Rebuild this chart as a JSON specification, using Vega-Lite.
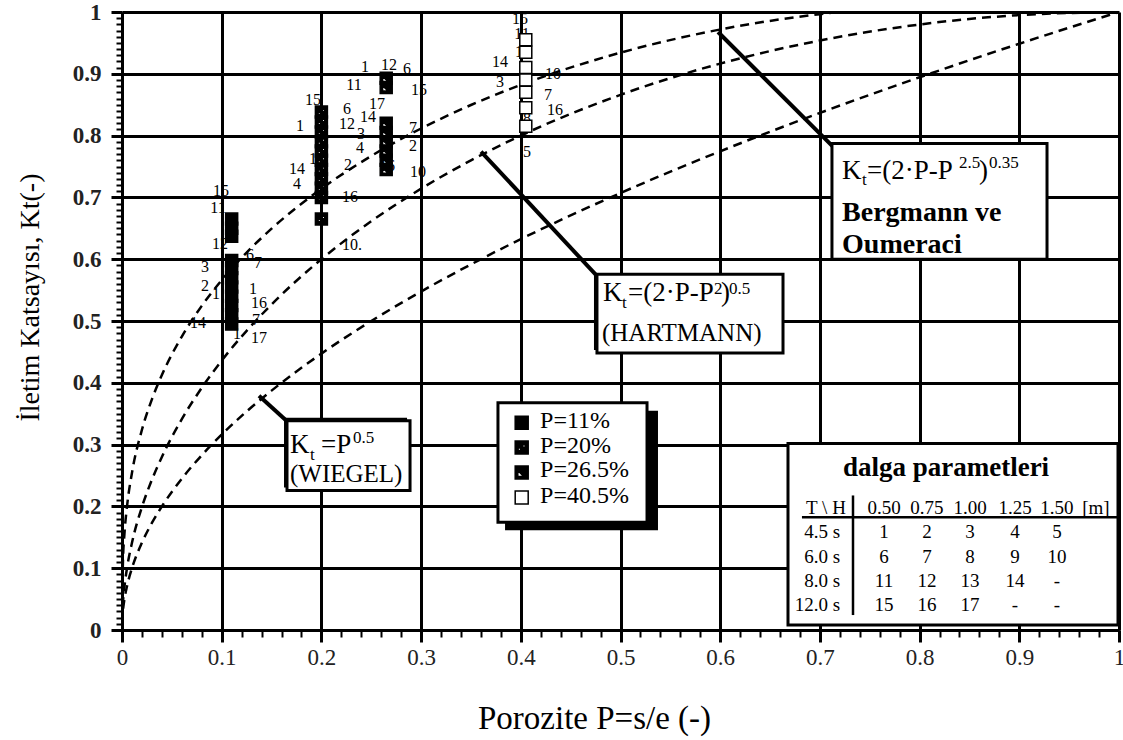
{
  "$schema": "https://vega.github.io/schema/vega-lite/v6.json",
  "width": 997,
  "height": 618,
  "autosize": {"type": "none"},
  "padding": {"left": 122, "top": 12, "right": 4, "bottom": 110},
  "background": "white",
  "config": {"view": {"stroke": null}, "font": "Liberation Serif"},
  "datasets": {
    "curves": [
      {"c": "w", "P": 0.0001, "Kt": 0.01}, {"c": "w", "P": 0.001, "Kt": 0.0316}, {"c": "w", "P": 0.0025, "Kt": 0.05}, {"c": "w", "P": 0.005, "Kt": 0.0707}, {"c": "w", "P": 0.01, "Kt": 0.1}, {"c": "w", "P": 0.02, "Kt": 0.1414}, {"c": "w", "P": 0.03, "Kt": 0.1732}, {"c": "w", "P": 0.04, "Kt": 0.2}, {"c": "w", "P": 0.06, "Kt": 0.2449}, {"c": "w", "P": 0.08, "Kt": 0.2828}, {"c": "w", "P": 0.1, "Kt": 0.3162}, {"c": "w", "P": 0.125, "Kt": 0.3536}, {"c": "w", "P": 0.15, "Kt": 0.3873}, {"c": "w", "P": 0.2, "Kt": 0.4472}, {"c": "w", "P": 0.25, "Kt": 0.5}, {"c": "w", "P": 0.3, "Kt": 0.5477}, {"c": "w", "P": 0.35, "Kt": 0.5916}, {"c": "w", "P": 0.4, "Kt": 0.6325}, {"c": "w", "P": 0.5, "Kt": 0.7071}, {"c": "w", "P": 0.6, "Kt": 0.7746}, {"c": "w", "P": 0.7, "Kt": 0.8367}, {"c": "w", "P": 0.8, "Kt": 0.8944}, {"c": "w", "P": 0.9, "Kt": 0.9487}, {"c": "w", "P": 1.0, "Kt": 1.0},
      {"c": "h", "P": 0.0001, "Kt": 0.0141}, {"c": "h", "P": 0.001, "Kt": 0.0447}, {"c": "h", "P": 0.0025, "Kt": 0.0707}, {"c": "h", "P": 0.005, "Kt": 0.0999}, {"c": "h", "P": 0.01, "Kt": 0.1411}, {"c": "h", "P": 0.02, "Kt": 0.199}, {"c": "h", "P": 0.03, "Kt": 0.2431}, {"c": "h", "P": 0.04, "Kt": 0.28}, {"c": "h", "P": 0.06, "Kt": 0.3412}, {"c": "h", "P": 0.08, "Kt": 0.3919}, {"c": "h", "P": 0.1, "Kt": 0.4359}, {"c": "h", "P": 0.125, "Kt": 0.4841}, {"c": "h", "P": 0.15, "Kt": 0.5268}, {"c": "h", "P": 0.2, "Kt": 0.6}, {"c": "h", "P": 0.25, "Kt": 0.6614}, {"c": "h", "P": 0.3, "Kt": 0.7141}, {"c": "h", "P": 0.35, "Kt": 0.7599}, {"c": "h", "P": 0.4, "Kt": 0.8}, {"c": "h", "P": 0.5, "Kt": 0.866}, {"c": "h", "P": 0.6, "Kt": 0.9165}, {"c": "h", "P": 0.7, "Kt": 0.9539}, {"c": "h", "P": 0.8, "Kt": 0.9798}, {"c": "h", "P": 0.9, "Kt": 0.995}, {"c": "h", "P": 1.0, "Kt": 1.0},
      {"c": "b", "P": 0.0001, "Kt": 0.0507}, {"c": "b", "P": 0.001, "Kt": 0.1136}, {"c": "b", "P": 0.0025, "Kt": 0.1565}, {"c": "b", "P": 0.005, "Kt": 0.1995}, {"c": "b", "P": 0.01, "Kt": 0.2543}, {"c": "b", "P": 0.02, "Kt": 0.324}, {"c": "b", "P": 0.03, "Kt": 0.3732}, {"c": "b", "P": 0.04, "Kt": 0.4126}, {"c": "b", "P": 0.06, "Kt": 0.4749}, {"c": "b", "P": 0.08, "Kt": 0.5245}, {"c": "b", "P": 0.1, "Kt": 0.5661}, {"c": "b", "P": 0.125, "Kt": 0.6108}, {"c": "b", "P": 0.15, "Kt": 0.6494}, {"c": "b", "P": 0.2, "Kt": 0.7141}, {"c": "b", "P": 0.25, "Kt": 0.767}, {"c": "b", "P": 0.3, "Kt": 0.8115}, {"c": "b", "P": 0.35, "Kt": 0.8495}, {"c": "b", "P": 0.4, "Kt": 0.8821}, {"c": "b", "P": 0.5, "Kt": 0.9342}, {"c": "b", "P": 0.6, "Kt": 0.9717}, {"c": "b", "P": 0.7, "Kt": 0.9965}, {"c": "b", "P": 0.8, "Kt": 1.0096}, {"c": "b", "P": 0.9, "Kt": 1.0109}, {"c": "b", "P": 1.0, "Kt": 1.0}
    ],
    "pts": [
      {"grp": "P=11%", "P": 0.11, "Kt": 0.665}, {"grp": "P=11%", "P": 0.11, "Kt": 0.65}, {"grp": "P=11%", "P": 0.11, "Kt": 0.637}, {"grp": "P=11%", "P": 0.11, "Kt": 0.598}, {"grp": "P=11%", "P": 0.11, "Kt": 0.585}, {"grp": "P=11%", "P": 0.11, "Kt": 0.57}, {"grp": "P=11%", "P": 0.11, "Kt": 0.555}, {"grp": "P=11%", "P": 0.11, "Kt": 0.54}, {"grp": "P=11%", "P": 0.11, "Kt": 0.525}, {"grp": "P=11%", "P": 0.11, "Kt": 0.51}, {"grp": "P=11%", "P": 0.11, "Kt": 0.495},
      {"grp": "P=20%", "P": 0.2, "Kt": 0.838}, {"grp": "P=20%", "P": 0.2, "Kt": 0.822}, {"grp": "P=20%", "P": 0.2, "Kt": 0.806}, {"grp": "P=20%", "P": 0.2, "Kt": 0.79}, {"grp": "P=20%", "P": 0.2, "Kt": 0.775}, {"grp": "P=20%", "P": 0.2, "Kt": 0.76}, {"grp": "P=20%", "P": 0.2, "Kt": 0.745}, {"grp": "P=20%", "P": 0.2, "Kt": 0.73}, {"grp": "P=20%", "P": 0.2, "Kt": 0.715}, {"grp": "P=20%", "P": 0.2, "Kt": 0.7}, {"grp": "P=20%", "P": 0.2, "Kt": 0.665},
      {"grp": "P=26.5%", "P": 0.265, "Kt": 0.893}, {"grp": "P=26.5%", "P": 0.265, "Kt": 0.878}, {"grp": "P=26.5%", "P": 0.265, "Kt": 0.82}, {"grp": "P=26.5%", "P": 0.265, "Kt": 0.805}, {"grp": "P=26.5%", "P": 0.265, "Kt": 0.79}, {"grp": "P=26.5%", "P": 0.265, "Kt": 0.775}, {"grp": "P=26.5%", "P": 0.265, "Kt": 0.76}, {"grp": "P=26.5%", "P": 0.265, "Kt": 0.745},
      {"grp": "P=40.5%", "P": 0.405, "Kt": 0.955}, {"grp": "P=40.5%", "P": 0.405, "Kt": 0.935}, {"grp": "P=40.5%", "P": 0.405, "Kt": 0.91}, {"grp": "P=40.5%", "P": 0.405, "Kt": 0.89}, {"grp": "P=40.5%", "P": 0.405, "Kt": 0.87}, {"grp": "P=40.5%", "P": 0.405, "Kt": 0.845}, {"grp": "P=40.5%", "P": 0.405, "Kt": 0.815}
    ],
    "labs": [
      {"t": "15", "P": 0.0993, "Kt": 0.7097}, {"t": "11", "P": 0.0963, "Kt": 0.6823}, {"t": "12", "P": 0.0983, "Kt": 0.6242}, {"t": "6", "P": 0.1284, "Kt": 0.6065}, {"t": "7", "P": 0.1364, "Kt": 0.5935}, {"t": "3", "P": 0.0833, "Kt": 0.588}, {"t": "2", "P": 0.0833, "Kt": 0.557}, {"t": "1", "P": 0.0943, "Kt": 0.5435}, {"t": "1", "P": 0.1314, "Kt": 0.552}, {"t": "16", "P": 0.1374, "Kt": 0.529}, {"t": "14", "P": 0.0762, "Kt": 0.4968}, {"t": "7", "P": 0.1344, "Kt": 0.501}, {"t": "1", "P": 0.1153, "Kt": 0.479}, {"t": "17", "P": 0.1374, "Kt": 0.4726},
      {"t": "15", "P": 0.1916, "Kt": 0.8581}, {"t": "1", "P": 0.1785, "Kt": 0.8161}, {"t": "6", "P": 0.2257, "Kt": 0.8435}, {"t": "12", "P": 0.2257, "Kt": 0.8194}, {"t": "17", "P": 0.1956, "Kt": 0.7629}, {"t": "14", "P": 0.1755, "Kt": 0.7452}, {"t": "2", "P": 0.2267, "Kt": 0.7532}, {"t": "4", "P": 0.1755, "Kt": 0.721}, {"t": "16", "P": 0.2287, "Kt": 0.7}, {"t": "10.", "P": 0.2307, "Kt": 0.6226},
      {"t": "1", "P": 0.2437, "Kt": 0.9113}, {"t": "12", "P": 0.2678, "Kt": 0.9145}, {"t": "6", "P": 0.2859, "Kt": 0.9081}, {"t": "11", "P": 0.2327, "Kt": 0.8823}, {"t": "15", "P": 0.2979, "Kt": 0.8742}, {"t": "17", "P": 0.2558, "Kt": 0.8516}, {"t": "14", "P": 0.2467, "Kt": 0.83}, {"t": "3", "P": 0.2397, "Kt": 0.803}, {"t": "7", "P": 0.2919, "Kt": 0.8129}, {"t": "4", "P": 0.2387, "Kt": 0.7803}, {"t": "2", "P": 0.2919, "Kt": 0.7839}, {"t": "16", "P": 0.2658, "Kt": 0.7516}, {"t": "10", "P": 0.2969, "Kt": 0.7419},
      {"t": "15", "P": 0.3992, "Kt": 0.9887}, {"t": "11", "P": 0.4012, "Kt": 0.9645}, {"t": "17", "P": 0.4022, "Kt": 0.9355}, {"t": "14", "P": 0.3791, "Kt": 0.9194}, {"t": "10", "P": 0.4323, "Kt": 0.9}, {"t": "3", "P": 0.3791, "Kt": 0.8871}, {"t": "7", "P": 0.4273, "Kt": 0.8661}, {"t": "16", "P": 0.4343, "Kt": 0.8419}, {"t": "8", "P": 0.4062, "Kt": 0.8274}, {"t": "5", "P": 0.4062, "Kt": 0.7742}
    ],
    "leg": [
      {"grp": "P=11%", "P": 0.4009, "Kt": 0.3355},
      {"grp": "P=20%", "P": 0.4009, "Kt": 0.2952},
      {"grp": "P=26.5%", "P": 0.4009, "Kt": 0.2548},
      {"grp": "P=40.5%", "P": 0.4009, "Kt": 0.2145}
    ],
    "shadows": [
      {"x1": 0.3842, "x2": 0.5376, "y1": 0.1613, "y2": 0.3548},
      {"x1": 0.1625, "x2": 0.2859, "y1": 0.2306, "y2": 0.3435},
      {"x1": 0.4734, "x2": 0.66, "y1": 0.4532, "y2": 0.5758}
    ],
    "boxes": [
      {"x1": 0.1655, "x2": 0.2889, "y1": 0.2258, "y2": 0.3387},
      {"x1": 0.4764, "x2": 0.663, "y1": 0.4484, "y2": 0.5758},
      {"x1": 0.7121, "x2": 0.9278, "y1": 0.6, "y2": 0.7871},
      {"x1": 0.3771, "x2": 0.5266, "y1": 0.1742, "y2": 0.3677},
      {"x1": 0.668, "x2": 0.999, "y1": 0.0081, "y2": 0.3016}
    ],
    "ptr": [
      {"x1": 0.1374, "y1": 0.379, "x2": 0.1705, "y2": 0.3306},
      {"x1": 0.3601, "y1": 0.7742, "x2": 0.4794, "y2": 0.5677},
      {"x1": 0.5978, "y1": 0.9677, "x2": 0.7161, "y2": 0.7774}
    ],
    "tlines": [
      {"x1": 0.682, "y1": 0.1823, "x2": 0.998, "y2": 0.1823},
      {"x1": 0.7332, "y1": 0.2177, "x2": 0.7332, "y2": 0.0242}
    ],
    "annBig": [
      {"t": "K", "P": 0.1685, "Kt": 0.2871}, {"t": "=P", "P": 0.1996, "Kt": 0.2871},
      {"t": "K", "P": 0.4824, "Kt": 0.5323}, {"t": "=(2·P-P", "P": 0.5075, "Kt": 0.5323}, {"t": ")", "P": 0.6008, "Kt": 0.5323},
      {"t": "K", "P": 0.7221, "Kt": 0.729}, {"t": "=(2·P-P", "P": 0.7472, "Kt": 0.729}, {"t": ")", "P": 0.8596, "Kt": 0.729}
    ],
    "annName": [
      {"t": "(WIEGEL)", "P": 0.1685, "Kt": 0.2387},
      {"t": "(HARTMANN)", "P": 0.4814, "Kt": 0.4677}
    ],
    "annSmall": [
      {"t": "t", "P": 0.1886, "Kt": 0.2758}, {"t": "0.5", "P": 0.2317, "Kt": 0.3032},
      {"t": "t", "P": 0.5015, "Kt": 0.521}, {"t": "2", "P": 0.5938, "Kt": 0.5435}, {"t": "0.5", "P": 0.6088, "Kt": 0.5435},
      {"t": "t", "P": 0.7422, "Kt": 0.7194}, {"t": "2.5", "P": 0.8395, "Kt": 0.7468}, {"t": "0.35", "P": 0.8696, "Kt": 0.7468}
    ],
    "annBold": [
      {"t": "Bergmann ve", "P": 0.7222, "Kt": 0.6613},
      {"t": "Oumeraci", "P": 0.7222, "Kt": 0.6097}
    ],
    "legText": [
      {"t": "P=11%", "P": 0.4193, "Kt": 0.3274},
      {"t": "P=20%", "P": 0.4193, "Kt": 0.2871},
      {"t": "P=26.5%", "P": 0.4193, "Kt": 0.2468},
      {"t": "P=40.5%", "P": 0.4193, "Kt": 0.2048}
    ],
    "tblTitle": [{"t": "dalga parametleri", "P": 0.8265, "Kt": 0.25}],
    "tblC": [
      {"t": "T \\ H", "P": 0.7061, "Kt": 0.1871}, {"t": "0.50", "P": 0.7643, "Kt": 0.1871}, {"t": "0.75", "P": 0.8074, "Kt": 0.1871}, {"t": "1.00", "P": 0.8506, "Kt": 0.1871}, {"t": "1.25", "P": 0.8957, "Kt": 0.1871}, {"t": "1.50", "P": 0.9378, "Kt": 0.1871}, {"t": "[m]", "P": 0.9769, "Kt": 0.1871},
      {"t": "1", "P": 0.7643, "Kt": 0.1484}, {"t": "2", "P": 0.8074, "Kt": 0.1484}, {"t": "3", "P": 0.8506, "Kt": 0.1484}, {"t": "4", "P": 0.8957, "Kt": 0.1484}, {"t": "5", "P": 0.9378, "Kt": 0.1484},
      {"t": "6", "P": 0.7643, "Kt": 0.1081}, {"t": "7", "P": 0.8074, "Kt": 0.1081}, {"t": "8", "P": 0.8506, "Kt": 0.1081}, {"t": "9", "P": 0.8957, "Kt": 0.1081}, {"t": "10", "P": 0.9378, "Kt": 0.1081},
      {"t": "11", "P": 0.7643, "Kt": 0.0694}, {"t": "12", "P": 0.8074, "Kt": 0.0694}, {"t": "13", "P": 0.8506, "Kt": 0.0694}, {"t": "14", "P": 0.8957, "Kt": 0.0694}, {"t": "-", "P": 0.9378, "Kt": 0.0694},
      {"t": "15", "P": 0.7643, "Kt": 0.0306}, {"t": "16", "P": 0.8074, "Kt": 0.0306}, {"t": "17", "P": 0.8506, "Kt": 0.0306}, {"t": "-", "P": 0.8957, "Kt": 0.0306}, {"t": "-", "P": 0.9378, "Kt": 0.0306}
    ],
    "tblR": [
      {"t": "4.5 s", "P": 0.7202, "Kt": 0.1484},
      {"t": "6.0 s", "P": 0.7202, "Kt": 0.1081},
      {"t": "8.0 s", "P": 0.7202, "Kt": 0.0694},
      {"t": "12.0 s", "P": 0.7202, "Kt": 0.0306}
    ]
  },
  "layer": [
    {
      "data": {"name": "curves"},
      "mark": {"type": "line", "clip": true, "color": "black", "strokeWidth": 2.5, "strokeDash": [9, 6], "interpolate": "monotone"},
      "encoding": {
        "x": {
          "field": "P", "type": "quantitative",
          "scale": {"domain": [0, 1], "nice": false, "zero": false},
          "axis": {
            "title": "Porozite P=s/e (-)",
            "values": [0, 0.02, 0.04, 0.06, 0.08, 0.1, 0.12, 0.14, 0.16, 0.18, 0.2, 0.22, 0.24, 0.26, 0.28, 0.3, 0.32, 0.34, 0.36, 0.38, 0.4, 0.42, 0.44, 0.46, 0.48, 0.5, 0.52, 0.54, 0.56, 0.58, 0.6, 0.62, 0.64, 0.66, 0.68, 0.7, 0.72, 0.74, 0.76, 0.78, 0.8, 0.82, 0.84, 0.86, 0.88, 0.9, 0.92, 0.94, 0.96, 0.98, 1],
            "tickCount": 1000,
            "format": ".2~f",
            "labelExpr": "abs(datum.value*10 - round(datum.value*10)) < 0.001 ? datum.label : ''",
            "labelOverlap": false, "labelFlush": false,
            "grid": true, "gridColor": "black", "gridWidth": 3,
            "gridOpacity": {"condition": {"test": "abs(datum.value*10 - round(datum.value*10)) < 0.001", "value": 1}, "value": 0},
            "tickSize": {"condition": {"test": "abs(datum.value*10 - round(datum.value*10)) < 0.001", "value": 12}, "value": 7},
            "tickWidth": {"condition": {"test": "abs(datum.value*10 - round(datum.value*10)) < 0.001", "value": 3}, "value": 2},
            "tickColor": "black", "domainColor": "black", "domainWidth": 3,
            "labelFont": "Liberation Serif", "labelFontSize": 23, "labelColor": "#222", "labelPadding": 4,
            "titleFont": "Liberation Serif", "titleFontSize": 33, "titleFontWeight": "normal", "titleColor": "black",
            "titleX": 472, "titleY": 98, "titleAlign": "center", "titleBaseline": "alphabetic"
          }
        },
        "y": {
          "field": "Kt", "type": "quantitative",
          "scale": {"domain": [0, 1], "nice": false, "zero": false},
          "axis": {
            "title": "İletim Katsayısı, Kt(-)",
            "values": [0, 0.01, 0.02, 0.03, 0.04, 0.05, 0.06, 0.07, 0.08, 0.09, 0.1, 0.11, 0.12, 0.13, 0.14, 0.15, 0.16, 0.17, 0.18, 0.19, 0.2, 0.21, 0.22, 0.23, 0.24, 0.25, 0.26, 0.27, 0.28, 0.29, 0.3, 0.31, 0.32, 0.33, 0.34, 0.35, 0.36, 0.37, 0.38, 0.39, 0.4, 0.41, 0.42, 0.43, 0.44, 0.45, 0.46, 0.47, 0.48, 0.49, 0.5, 0.51, 0.52, 0.53, 0.54, 0.55, 0.56, 0.57, 0.58, 0.59, 0.6, 0.61, 0.62, 0.63, 0.64, 0.65, 0.66, 0.67, 0.68, 0.69, 0.7, 0.71, 0.72, 0.73, 0.74, 0.75, 0.76, 0.77, 0.78, 0.79, 0.8, 0.81, 0.82, 0.83, 0.84, 0.85, 0.86, 0.87, 0.88, 0.89, 0.9, 0.91, 0.92, 0.93, 0.94, 0.95, 0.96, 0.97, 0.98, 0.99, 1],
            "tickCount": 1000,
            "format": ".2~f",
            "labelExpr": "abs(datum.value*10 - round(datum.value*10)) < 0.001 ? datum.label : ''",
            "labelOverlap": false, "labelFlush": false,
            "grid": true, "gridColor": "black", "gridWidth": 3,
            "gridOpacity": {"condition": {"test": "abs(datum.value*10 - round(datum.value*10)) < 0.001", "value": 1}, "value": 0},
            "tickSize": {"condition": {"test": "abs(datum.value*10 - round(datum.value*10)) < 0.001", "value": 11}, "value": 6},
            "tickWidth": {"condition": {"test": "abs(datum.value*10 - round(datum.value*10)) < 0.001", "value": 3}, "value": 2},
            "tickColor": "black", "domainColor": "black", "domainWidth": 3,
            "labelFont": "Liberation Serif", "labelFontSize": 23, "labelFontWeight": "bold", "labelColor": "#222", "labelPadding": 10,
            "titleFont": "Liberation Serif", "titleFontSize": 28, "titleFontWeight": "normal", "titleColor": "black",
            "titleAngle": -90, "titleX": -92, "titleY": 285, "titleAlign": "center", "titleBaseline": "middle"
          }
        },
        "detail": {"field": "c", "type": "nominal"}
      }
    },
    {
      "data": {"name": "ptr"},
      "mark": {"type": "rule", "color": "black", "strokeWidth": 4},
      "encoding": {
        "x": {"field": "x1", "type": "quantitative"},
        "y": {"field": "y1", "type": "quantitative"},
        "x2": {"field": "x2"},
        "y2": {"field": "y2"}
      }
    },
    {
      "data": {"name": "shadows"},
      "mark": {"type": "rect", "color": "black"},
      "encoding": {
        "x": {"field": "x1", "type": "quantitative"},
        "x2": {"field": "x2"},
        "y": {"field": "y1", "type": "quantitative"},
        "y2": {"field": "y2"}
      }
    },
    {
      "data": {"name": "boxes"},
      "mark": {"type": "rect", "fill": "white", "stroke": "black", "strokeWidth": 3},
      "encoding": {
        "x": {"field": "x1", "type": "quantitative"},
        "x2": {"field": "x2"},
        "y": {"field": "y1", "type": "quantitative"},
        "y2": {"field": "y2"}
      }
    },
    {
      "data": {"name": "tlines"},
      "mark": {"type": "rule", "color": "black", "strokeWidth": 2.5},
      "encoding": {
        "x": {"field": "x1", "type": "quantitative"},
        "y": {"field": "y1", "type": "quantitative"},
        "x2": {"field": "x2"},
        "y2": {"field": "y2"}
      }
    },
    {
      "data": {"name": "annBig"},
      "mark": {"type": "text", "align": "left", "baseline": "alphabetic", "fontSize": 27, "color": "black"},
      "encoding": {
        "x": {"field": "P", "type": "quantitative"},
        "y": {"field": "Kt", "type": "quantitative"},
        "text": {"field": "t"}
      }
    },
    {
      "data": {"name": "annName"},
      "mark": {"type": "text", "align": "left", "baseline": "alphabetic", "fontSize": 25, "color": "black"},
      "encoding": {
        "x": {"field": "P", "type": "quantitative"},
        "y": {"field": "Kt", "type": "quantitative"},
        "text": {"field": "t"}
      }
    },
    {
      "data": {"name": "annSmall"},
      "mark": {"type": "text", "align": "left", "baseline": "alphabetic", "fontSize": 17, "color": "black"},
      "encoding": {
        "x": {"field": "P", "type": "quantitative"},
        "y": {"field": "Kt", "type": "quantitative"},
        "text": {"field": "t"}
      }
    },
    {
      "data": {"name": "annBold"},
      "mark": {"type": "text", "align": "left", "baseline": "alphabetic", "fontSize": 28, "fontWeight": "bold", "color": "black"},
      "encoding": {
        "x": {"field": "P", "type": "quantitative"},
        "y": {"field": "Kt", "type": "quantitative"},
        "text": {"field": "t"}
      }
    },
    {
      "data": {"name": "legText"},
      "mark": {"type": "text", "align": "left", "baseline": "alphabetic", "fontSize": 24, "color": "black"},
      "encoding": {
        "x": {"field": "P", "type": "quantitative"},
        "y": {"field": "Kt", "type": "quantitative"},
        "text": {"field": "t"}
      }
    },
    {
      "data": {"name": "tblTitle"},
      "mark": {"type": "text", "align": "center", "baseline": "alphabetic", "fontSize": 27, "fontWeight": "bold", "color": "black"},
      "encoding": {
        "x": {"field": "P", "type": "quantitative"},
        "y": {"field": "Kt", "type": "quantitative"},
        "text": {"field": "t"}
      }
    },
    {
      "data": {"name": "tblC"},
      "mark": {"type": "text", "align": "center", "baseline": "alphabetic", "fontSize": 19, "color": "black"},
      "encoding": {
        "x": {"field": "P", "type": "quantitative"},
        "y": {"field": "Kt", "type": "quantitative"},
        "text": {"field": "t"}
      }
    },
    {
      "data": {"name": "tblR"},
      "mark": {"type": "text", "align": "right", "baseline": "alphabetic", "fontSize": 19, "color": "black"},
      "encoding": {
        "x": {"field": "P", "type": "quantitative"},
        "y": {"field": "Kt", "type": "quantitative"},
        "text": {"field": "t"}
      }
    },
    {
      "data": {"name": "labs"},
      "mark": {"type": "text", "align": "center", "baseline": "middle", "fontSize": 16, "color": "black"},
      "encoding": {
        "x": {"field": "P", "type": "quantitative"},
        "y": {"field": "Kt", "type": "quantitative"},
        "text": {"field": "t"}
      }
    },
    {
      "data": {"name": "pts"},
      "mark": {"type": "point", "filled": true, "size": 144, "stroke": "black", "strokeWidth": 1.5, "opacity": 1},
      "encoding": {
        "x": {"field": "P", "type": "quantitative"},
        "y": {"field": "Kt", "type": "quantitative"},
        "shape": {"field": "grp", "type": "nominal", "legend": null,
          "scale": {"domain": ["P=11%", "P=20%", "P=26.5%", "P=40.5%"], "range": ["square", "M-1,-1H1V1H-1Z M-0.55,0.05V0.45H-0.15V0.05Z M0.15,-0.45V-0.05H0.55V-0.45Z", "M-1,-1H1V1H-1Z M-0.6,-0.3V0.6H0.3Z", "square"]}},
        "fill": {"field": "grp", "type": "nominal", "legend": null,
          "scale": {"domain": ["P=11%", "P=20%", "P=26.5%", "P=40.5%"], "range": ["black", "black", "black", "white"]}}
      }
    },
    {
      "data": {"name": "leg"},
      "mark": {"type": "point", "filled": true, "size": 169, "stroke": "black", "strokeWidth": 1.5, "opacity": 1},
      "encoding": {
        "x": {"field": "P", "type": "quantitative"},
        "y": {"field": "Kt", "type": "quantitative"},
        "shape": {"field": "grp", "type": "nominal", "legend": null},
        "fill": {"field": "grp", "type": "nominal", "legend": null}
      }
    }
  ]
}
